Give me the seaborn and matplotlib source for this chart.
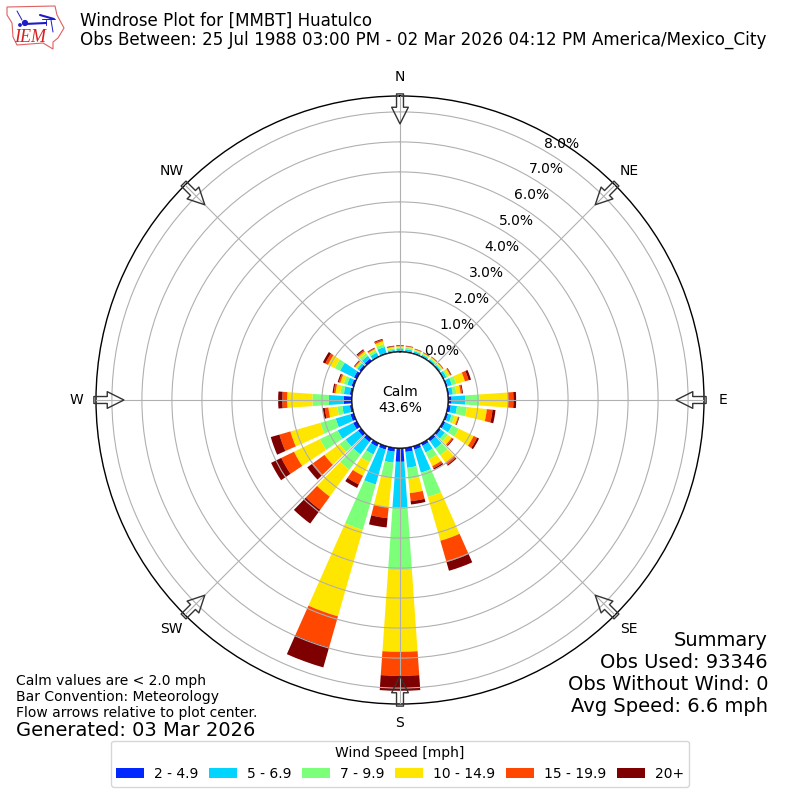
# Windrose plot for MMBT Huatulco, stacked frequency bars per wind direction

import matplotlib
matplotlib.use('Agg')
import matplotlib.pyplot as plt
from matplotlib.patches import Polygon
import numpy as np
import pandas as pd
import seaborn as sns

directions = list(range(0, 360, 10))
speed_labels = ['2 - 4.9', '5 - 6.9', '7 - 9.9', '10 - 14.9', '15 - 19.9', '20+']
speed_colors = ['#0028ff', '#00d4ff', '#7cff79', '#ffe600', '#ff4700', '#7f0000']

# frequency in percent, one entry per 10 degree direction starting at north
freq_2_5 = [.03, .03, .03, .03, .03, .03, .04, .05, .05, .12, .10, .07, .08, .08, .10, .10, .12, .14,
            .46, .13, .12, .13, .13, .13, .14, .12, .08, .27, .08, .08, .11, .08, .10, .03, .04, .03]
freq_5_7 = [.07, .07, .06, .05, .05, .05, .08, .15, .12, .45, .21, .12, .25, .17, .30, .25, .80, .53,
            1.53, .37, 1.21, .29, .51, .51, .57, .51, .25, .50, .20, .15, .51, .08, .12, .13, .20, .05]
freq_7_10 = [.05, .05, .03, .03, .04, .04, .06, .15, .12, .47, .33, .10, .25, .12, .28, .25, .84, .38,
             2.08, .50, 1.57, .29, .63, .25, .66, .53, .17, .55, .12, .12, .20, .05, .10, .08, .10, .05]
freq_10_15 = [.04, .04, .03, .03, .04, .04, .08, .30, .14, .96, .67, .12, .55, .16, .30, .25, 1.52, .47,
              2.72, 1.00, 3.00, .50, 1.11, .62, .96, 1.04, .30, .84, .16, .12, .25, .04, .08, .05, .10, .05]
freq_15_20 = [.02, .02, .02, .02, .02, .02, .03, .13, .05, .18, .19, .03, .13, .05, .09, .08, .74, .27,
              .80, .36, 1.07, .32, .54, .52, .47, .38, .12, .16, .06, .05, .10, .03, .05, .03, .05, .02]
freq_20 = [.02, .01, .01, .01, .01, .01, .02, .08, .03, .09, .10, .02, .07, .03, .04, .05, .30, .11,
           .50, .31, .70, .13, .57, .19, .38, .30, .07, .14, .04, .04, .09, .02, .04, .02, .03, .02]
speed_freqs = [freq_2_5, freq_5_7, freq_7_10, freq_10_15, freq_15_20, freq_20]

radial_ticks = [0, 1, 2, 3, 4, 5, 6, 7, 8]
compass_angles = [0, 45, 90, 135, 180, 225, 270, 315]
compass_labels = ['N', 'NE', 'E', 'SE', 'S', 'SW', 'W', 'NW']

title_text = ('Windrose Plot for [MMBT] Huatulco\n'
              'Obs Between: 25 Jul 1988 03:00 PM - 02 Mar 2026 04:12 PM America/Mexico_City')
summary_text = 'Summary\nObs Used: 93346\nObs Without Wind: 0\nAvg Speed: 6.6 mph'
note_text = ('Calm values are < 2.0 mph\nBar Convention: Meteorology\n'
             'Flow arrows relative to plot center.')

sns.set_style('white')
plt.rcParams['font.family'] = ['DejaVu Sans']
plt.rcParams['text.color'] = 'black'
plt.rcParams['xtick.color'] = 'black'
plt.rcParams['ytick.color'] = 'black'

fig = plt.figure(figsize=(8, 8), dpi=100)
ax = fig.add_axes([0.12, 0.12, 0.76, 0.76], polar=True)

# Stack the speed bins with seaborn, theta in radians keeps the native scale
df = pd.DataFrame({'theta': np.radians(directions)})
bottom = np.zeros(len(directions))
for label, color, values in zip(speed_labels, speed_colors, speed_freqs):
    df['freq'] = values
    sns.barplot(data=df, x='theta', y='freq', native_scale=True, width=0.8, bottom=bottom,
                color=color, saturation=1, errorbar=None, linewidth=0, label=label,
                legend=False, ax=ax)
    bottom = bottom + np.array(values)

ax.set_theta_zero_location('N')
ax.set_theta_direction(-1)
ax.set_xlim(0, 2 * np.pi)
ax.set_rorigin(-1.6)
ax.set_ylim(0, 8.53)
ax.set_xlabel('')
ax.set_ylabel('')

ax.set_axisbelow(False)
ax.grid(True, color='#b0b0b0', linewidth=0.8)
ax.set_xticks(np.radians(compass_angles))
ax.set_xticklabels(compass_labels, fontsize=10)
ax.set_yticks(radial_ticks)
ax.set_yticklabels([f'{v:.1f}%' for v in radial_ticks], fontsize=10)
ax.set_rlabel_position(30)
for lab in ax.get_yticklabels():
    lab.set_ha('left')
    lab.set_va('bottom')
ax.spines['polar'].set_color('black')
ax.spines['polar'].set_linewidth(1)

# Black ring at the zero line, calm share in the middle
ax.plot(np.linspace(0, 2 * np.pi, 360), np.zeros(360), color='black', lw=1.2, zorder=5)
ax.text(0, -1.6, 'Calm\n43.6%', ha='center', va='center', fontsize=10)

# Flow arrows on the rim pointing at the center
for ang in compass_angles:
    ax.annotate('', xy=(np.radians(ang), 7.6), xytext=(np.radians(ang), 8.6),
                annotation_clip=False, zorder=6,
                arrowprops=dict(facecolor='none', edgecolor='#333333', linewidth=1.0,
                                width=5, headwidth=12, headlength=12, shrink=0))

fig.text(80 / 800, 1 - 12 / 800, title_text, fontsize=12.02, ha='left', va='top', linespacing=1.03)

fig.text(768 / 800, 1 - 631 / 800, summary_text, fontsize=14, ha='right', va='top')
fig.text(16 / 800, 1 - 674 / 800, note_text, fontsize=10, ha='left', va='top')
fig.text(16 / 800, 1 - 730 / 800, 'Generated: 03 Mar 2026', fontsize=14, ha='left', va='center')

# Legend under the rose, handles come from the stacked bars
handles = [c for c in ax.containers]
leg = fig.legend(handles, speed_labels, title='Wind Speed [mph]', ncol=6, fontsize=10,
                 title_fontsize=10, loc='lower center', bbox_to_anchor=(0.5, 0.008),
                 frameon=True, columnspacing=0.8, handletextpad=0.7)

# Small IEM logo, hand drawn in pixel coordinates
logo = fig.add_axes([0, 1 - 60 / 800, 80 / 800, 60 / 800])
logo.set_xlim(0, 80)
logo.set_ylim(60, 0)
logo.axis('off')
outline = [(7, 7), (55, 6), (57, 15), (64, 28), (58, 38), (53, 42), (53, 49), (43, 43),
           (17, 45), (13, 37), (12, 23), (7, 15)]
logo.add_patch(Polygon(outline, closed=True, facecolor='white', edgecolor='#e06060', lw=0.8))
logo.plot([25, 46], [24, 23], color='#1c1cc8', lw=1.5)
logo.plot([17, 22], [11, 20], color='#1c1cc8', lw=0.7)
logo.plot([40, 54], [15, 19], color='#1c1cc8', lw=1.5)
logo.plot([42, 55], [19, 19], color='#1c1cc8', lw=0.7)
logo.plot([46, 46], [20, 25], color='#1c1cc8', lw=0.7)
logo.plot([51, 53], [20, 32], color='#1c1cc8', lw=0.7)
logo.scatter([25, 20], [23, 25], s=[12, 3], color='#1c1cc8')
logo.text(30, 37, 'IEM', color='#d62020', fontsize=13, family='Liberation Serif', style='italic',
          ha='center', va='center')

fig.savefig('out.png', dpi=100)
